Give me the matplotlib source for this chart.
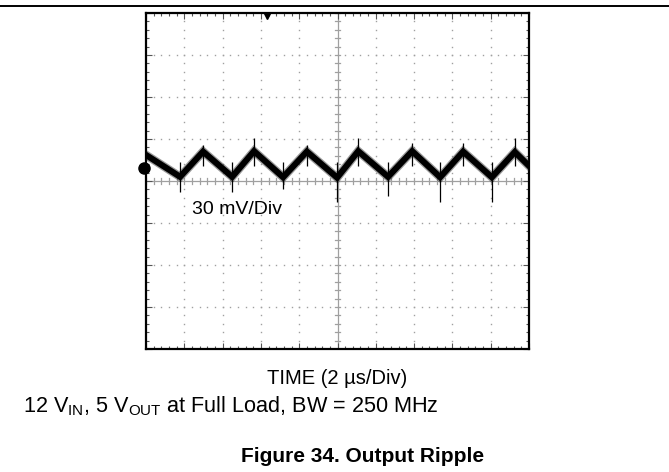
"""Scope capture: output ripple, 12 V in / 5 V out at full load."""

import numpy as np
import matplotlib
matplotlib.use("Agg")
import matplotlib.pyplot as plt
from matplotlib.lines import Line2D

plt.rcParams.update({"font.family": ["Liberation Sans", "DejaVu Sans"]})

# screen is 10 x 8 divisions, values in divisions (2 us/div, 30 mV/div)
N_XDIV, N_YDIV = 10, 8

# ripple trace vertices (time div, amplitude div)
trace_t = [0.00, 0.89, 1.49, 2.25, 2.82, 3.58, 4.20, 4.99, 5.54, 6.32, 6.95, 7.68, 8.28, 9.03, 9.63, 10.00]
trace_v = [0.62, 0.10, 0.70, 0.10, 0.71, 0.09, 0.70, 0.08, 0.71, 0.10, 0.71, 0.09, 0.70, 0.09, 0.69, 0.36]

# switching spikes at valleys (downward) and peaks (upward)
valley_t  = [0.89, 2.25, 3.58, 4.99, 6.32, 7.68, 9.03]
valley_lo = [-0.25, -0.25, -0.20, -0.50, -0.35, -0.50, -0.50]
peak_t    = [1.49, 2.82, 4.20, 5.54, 6.95, 8.28, 9.63]
peak_hi   = [0.86, 1.02, 0.86, 1.02, 0.90, 0.90, 1.02]

ground_level = 0.31   # channel marker on left edge
trigger_pos  = 3.16   # trigger marker on top edge

W, H = 669, 472
fig = plt.figure(figsize=(W / 100, H / 100), dpi=100)
ax = fig.add_axes([146 / W, 1 - 349 / H, 383 / W, 336 / H])
ax.set_xlim(0, N_XDIV)
ax.set_ylim(-N_YDIV / 2, N_YDIV / 2)

# graticule dots
grid_c = "#a0a0a0"
for gx in range(1, N_XDIV):
    if gx == N_XDIV // 2:
        continue
    ys = np.arange(-N_YDIV / 2, N_YDIV / 2, 0.2)
    ax.plot(np.full_like(ys, gx), ys, ls="none", marker="s", ms=1.0, color=grid_c, mew=0)
for gy in range(-N_YDIV // 2 + 1, N_YDIV // 2):
    if gy == 0:
        continue
    xs = np.arange(0, N_XDIV, 0.2)
    ax.plot(xs, np.full_like(xs, gy), ls="none", marker="s", ms=1.0, color=grid_c, mew=0)

# center cross with minor ticks
ax.axvline(N_XDIV / 2, color=grid_c, lw=0.9, zorder=1)
ax.axhline(0, color=grid_c, lw=0.9, zorder=1)
for t in np.arange(0, N_XDIV + 0.01, 0.2):
    ax.plot([t, t], [-0.06, 0.06], color=grid_c, lw=0.9, zorder=1)
for t in np.arange(-N_YDIV / 2, N_YDIV / 2 + 0.01, 0.2):
    ax.plot([N_XDIV / 2 - 0.07, N_XDIV / 2 + 0.07], [t, t], color=grid_c, lw=0.9, zorder=1)

# edge ticks
ax.set_xticks(range(0, N_XDIV + 1))
ax.set_yticks(range(-N_YDIV // 2, N_YDIV // 2 + 1))
ax.set_xticks(np.arange(0, N_XDIV, 0.2), minor=True)
ax.set_yticks(np.arange(-N_YDIV / 2, N_YDIV / 2, 0.2), minor=True)
ax.tick_params(which="both", direction="in", top=True, right=True,
               labelbottom=False, labelleft=False, color="#555555", width=0.8)
ax.tick_params(which="major", length=4)
ax.tick_params(which="minor", length=2.5)
for s in ax.spines.values():
    s.set_linewidth(1.6)

# ripple trace: soft noisy halo plus solid core
ax.plot(trace_t, trace_v, color="#222222", lw=6.2, alpha=0.45, solid_joinstyle="miter", zorder=3)
ax.plot(trace_t, trace_v, color="black", lw=4.4, solid_joinstyle="miter", zorder=3)
ax.vlines(valley_t, valley_lo, 0.45, color="black", lw=0.9, zorder=3)
ax.vlines(peak_t, 0.35, peak_hi, color="black", lw=0.9, zorder=3)

# channel / trigger markers
ax.plot(-0.06, ground_level, marker="o", ms=8, color="black", clip_on=False, zorder=4)
ax.plot(trigger_pos, 3.93, marker="v", ms=5, color="black", clip_on=False, zorder=4)

fig.text(192 / W, 1 - 210 / H, "30 mV/Div", fontsize=14, va="center", ha="left")
fig.text(337 / W, 1 - 378 / H, "TIME (2 \u00b5s/Div)", fontsize=14.5, va="center", ha="center")
fig.text(23 / W, 1 - 406 / H,
         r"12 V$_\mathregular{IN}$, 5 V$_\mathregular{OUT}$ at Full Load, BW = 250 MHz",
         fontsize=15.6, va="center", ha="left")
fig.text(363 / W, 1 - 457 / H, "Figure 34. Output Ripple", fontsize=15,
         fontweight="bold", va="center", ha="center")

fig.add_artist(Line2D([0, 1], [1 - 6 / H] * 2, color="black", lw=1.4))

fig.savefig("out.png", dpi=100)
